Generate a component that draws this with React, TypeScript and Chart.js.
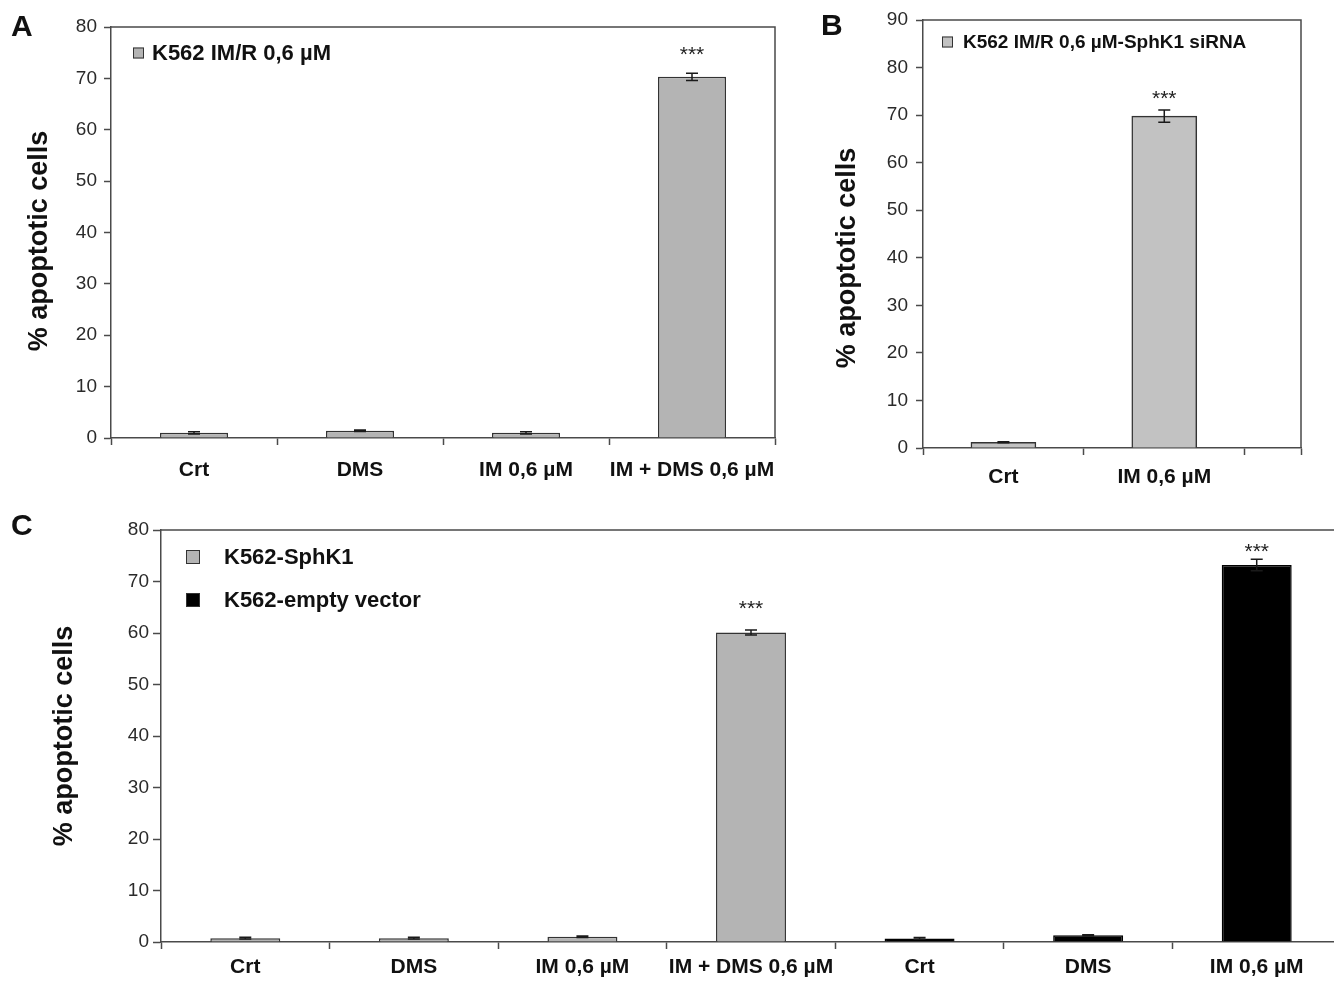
import React, { useEffect, useRef } from 'react';
import { Chart, registerables } from 'chart.js';

Chart.register(...registerables);

const FONT = '"Liberation Sans", Arial, Helvetica, sans-serif';
const Y_TITLE = '% apoptotic cells';

// ---------- Panel A ----------
const aCategories = ['Crt', 'DMS', 'IM 0,6 µM', 'IM + DMS 0,6 µM'];
const aSeriesLabel = 'K562 IM/R 0,6 µM';
const aValues = [1.0, 1.4, 1.0, 70.3];
const aErrors = [0.2, 0.15, 0.2, 0.7];
const aStars = ['', '', '', '***'];
const aYMax = 80;

// ---------- Panel B ----------
const bCategories = ['Crt', 'IM 0,6 µM'];
const bSeriesLabel = 'K562 IM/R 0,6 µM-SphK1 siRNA';
const bValues = [1.2, 69.8];
const bErrors = [0.12, 1.3];
const bStars = ['', '***'];
const bYMax = 90;

// ---------- Panel C ----------
const cCategories = ['Crt', 'DMS', 'IM 0,6 µM', 'IM + DMS 0,6 µM', 'Crt', 'DMS', 'IM 0,6 µM'];
const cSeries1Label = 'K562-SphK1';
const cSeries1Values = [0.75, 0.75, 1.0, 60.1, null, null, null];
const cSeries1Errors = [0.15, 0.15, 0.15, 0.5, null, null, null];
const cSeries1Stars = ['', '', '', '***', '', '', ''];
const cSeries2Label = 'K562-empty vector';
const cSeries2Values = [null, null, null, null, 0.7, 1.3, 73.2];
const cSeries2Errors = [null, null, null, null, 0.15, 0.1, 1.1];
const cSeries2Stars = ['', '', '', '', '', '', '***'];
const cYMax = 80;

const AXIS = '#4a4a4a';
const GRAY = '#b4b4b4';
const GRAY_B = '#c2c2c2';
const BLACK = '#000000';
const BAR_EDGE = '#333333';

const tickFont = { family: FONT, size: 19 };
const catFont = { family: FONT, size: 21, weight: 'bold' as const };

const decorPlugin = {
  id: 'decor',
  afterDatasetsDraw(chart: any, _args: any, opts: any) {
    const { ctx, chartArea: ca, scales } = chart;
    const y = scales.y;
    ctx.save();
    // frame (top + right)
    ctx.strokeStyle = AXIS;
    ctx.lineWidth = 1.5;
    ctx.beginPath();
    ctx.moveTo(ca.left, ca.top);
    ctx.lineTo(ca.right, ca.top);
    ctx.lineTo(ca.right, ca.bottom);
    ctx.stroke();

    // error bars + stars
    chart.data.datasets.forEach((ds: any, di: number) => {
      const meta = chart.getDatasetMeta(di);
      const errs = (opts.errors || [])[di] || [];
      const stars = (opts.stars || [])[di] || [];
      const gap = (opts.starGap || [])[di] || 20;
      ds.data.forEach((raw: any, i: number) => {
        const v = raw !== null && typeof raw === 'object' ? raw.y : raw;
        if (v == null) return;
        const el = meta.data[i];
        if (!el) return;
        const x = el.x;
        const e = errs[i];
        let topPx = y.getPixelForValue(v);
        if (e != null) {
          const yt = y.getPixelForValue(v + e);
          const yb = y.getPixelForValue(v - e);
          topPx = yt;
          ctx.strokeStyle = '#1a1a1a';
          ctx.lineWidth = 1.5;
          ctx.beginPath();
          ctx.moveTo(x, yt);
          ctx.lineTo(x, yb);
          ctx.moveTo(x - 6, yt);
          ctx.lineTo(x + 6, yt);
          ctx.moveTo(x - 6, yb);
          ctx.lineTo(x + 6, yb);
          ctx.stroke();
        }
        const s = stars[i];
        if (s) {
          ctx.fillStyle = '#222';
          ctx.font = `21px ${FONT}`;
          ctx.textAlign = 'center';
          ctx.textBaseline = 'alphabetic';
          ctx.fillText(s, x, topPx - gap + 12);
        }
      });
    });

    // legend
    const lg = opts.legend;
    if (lg) {
      chart.data.datasets.forEach((ds: any, di: number) => {
        const cy = lg.y + di * (lg.rowGap || 0);
        ctx.fillStyle = ds.backgroundColor;
        ctx.fillRect(lg.x, cy - lg.box / 2, lg.box, lg.box);
        ctx.strokeStyle = '#333';
        ctx.lineWidth = 1;
        ctx.strokeRect(lg.x + 0.5, cy - lg.box / 2 + 0.5, lg.box - 1, lg.box - 1);
        ctx.fillStyle = '#111';
        ctx.font = `bold ${lg.size}px ${FONT}`;
        ctx.textAlign = 'left';
        ctx.textBaseline = 'middle';
        ctx.fillText(ds.label, lg.textX, cy + 1);
      });
    }

    // y-axis title
    const t = opts.yTitle;
    if (t) {
      ctx.save();
      ctx.translate(t.x, t.y);
      ctx.rotate(-Math.PI / 2);
      ctx.fillStyle = '#111';
      ctx.font = `bold 27px ${FONT}`;
      ctx.textAlign = 'center';
      ctx.textBaseline = 'middle';
      ctx.fillText(t.text, 0, 0);
      ctx.restore();
    }
    ctx.restore();
  },
};

function yAxis(max: number, width: number, tickLen: number, pad: number) {
  return {
    min: 0,
    max,
    ticks: { stepSize: 10, font: tickFont, color: '#2a2a2a', padding: pad },
    grid: { drawOnChartArea: false, drawTicks: true, tickLength: tickLen, tickColor: AXIS, tickWidth: 1.5 },
    border: { display: true, color: AXIS, width: 1.5 },
    afterFit: (s: any) => {
      s.width = width;
    },
  };
}

function xCat(height: number, pad: number) {
  return {
    grid: { offset: true, drawOnChartArea: false, drawTicks: true, tickLength: 7, tickColor: AXIS, tickWidth: 1.5 },
    border: { display: true, color: AXIS, width: 1.5 },
    ticks: { font: catFont, color: '#111', padding: pad, maxRotation: 0, autoSkip: false },
    afterFit: (s: any) => {
      s.height = height;
    },
  };
}

function buildA(canvas: HTMLCanvasElement) {
  return new Chart(canvas, {
    type: 'bar',
    data: {
      labels: aCategories,
      datasets: [
        {
          label: aSeriesLabel,
          data: aValues,
          backgroundColor: GRAY,
          borderColor: BAR_EDGE,
          borderWidth: 1.5,
          barPercentage: 0.41,
          categoryPercentage: 1,
        },
      ],
    },
    options: {
      responsive: false,
      animation: false,
      layout: { padding: { top: 27, right: 25, left: 0, bottom: 0 } },
      plugins: {
        legend: { display: false },
        tooltip: { enabled: false },
        decor: {
          errors: [aErrors],
          stars: [aStars],
          starGap: [24],
          legend: { x: 133, y: 53, box: 11, textX: 152, size: 22, rowGap: 0 },
          yTitle: { text: Y_TITLE, x: 40, y: 241 },
        },
      } as any,
      scales: {
        x: xCat(62, 13) as any,
        y: yAxis(aYMax, 111, 7, 7) as any,
      },
    },
    plugins: [decorPlugin as any],
  });
}

function buildB(canvas: HTMLCanvasElement) {
  const xMax = 1.85;
  return new Chart(canvas, {
    type: 'bar',
    data: {
      datasets: [
        {
          label: bSeriesLabel,
          data: bValues.map((v, i) => ({ x: i, y: v })),
          backgroundColor: GRAY_B,
          borderColor: BAR_EDGE,
          borderWidth: 1.5,
          barThickness: 65,
        },
      ],
    },
    options: {
      responsive: false,
      animation: false,
      layout: { padding: { top: 20, right: 33, left: 0, bottom: 0 } },
      plugins: {
        legend: { display: false },
        tooltip: { enabled: false },
        decor: {
          errors: [bErrors],
          stars: [bStars],
          starGap: [17],
          legend: { x: 132, y: 42, box: 11, textX: 153, size: 19, rowGap: 0 },
          yTitle: { text: Y_TITLE, x: 38, y: 258 },
        },
      } as any,
      scales: {
        x: {
          type: 'linear',
          offset: false,
          min: -0.5,
          max: xMax,
          afterBuildTicks: (s: any) => {
            s.ticks = [-0.5, 0, 0.5, 1, 1.5, xMax].map((v) => ({ value: v }));
          },
          grid: {
            offset: false,
            drawOnChartArea: false,
            drawTicks: true,
            tickLength: 7,
            tickWidth: 1.5,
            tickColor: (c: any) => (c.tick && Number.isInteger(c.tick.value) ? 'rgba(0,0,0,0)' : AXIS),
          },
          border: { display: true, color: AXIS, width: 1.5 },
          ticks: {
            font: catFont,
            color: '#111',
            padding: 10,
            maxRotation: 0,
            autoSkip: false,
            callback: (v: any) => (Number.isInteger(v) ? bCategories[v] : ''),
          },
          afterFit: (s: any) => {
            s.height = 52;
          },
        } as any,
        y: yAxis(bYMax, 113, 7, 8) as any,
      },
    },
    plugins: [decorPlugin as any],
  });
}

function buildC(canvas: HTMLCanvasElement) {
  return new Chart(canvas, {
    type: 'bar',
    data: {
      labels: cCategories,
      datasets: [
        {
          label: cSeries1Label,
          data: cSeries1Values,
          backgroundColor: GRAY,
          borderColor: BAR_EDGE,
          borderWidth: 1.5,
          barPercentage: 0.415,
          categoryPercentage: 1,
          grouped: false,
        },
        {
          label: cSeries2Label,
          data: cSeries2Values,
          backgroundColor: BLACK,
          borderColor: BLACK,
          borderWidth: 1.5,
          barPercentage: 0.415,
          categoryPercentage: 1,
          grouped: false,
        },
      ],
    },
    options: {
      responsive: false,
      animation: false,
      layout: { padding: { top: 30, right: 9, left: 0, bottom: 0 } },
      plugins: {
        legend: { display: false },
        tooltip: { enabled: false },
        decor: {
          errors: [cSeries1Errors, cSeries2Errors],
          stars: [cSeries1Stars, cSeries2Stars],
          starGap: [27, 13],
          legend: { x: 186, y: 57, box: 14, textX: 224, size: 22, rowGap: 43 },
          yTitle: { text: Y_TITLE, x: 65, y: 236 },
        },
      } as any,
      scales: {
        x: xCat(40, 6) as any,
        y: yAxis(cYMax, 161, 8, 4) as any,
      },
    },
    plugins: [decorPlugin as any],
  });
}

function Panel(props: { build: (c: HTMLCanvasElement) => Chart; left: number; top: number; width: number; height: number }) {
  const { build, left, top, width, height } = props;
  const ref = useRef<HTMLCanvasElement>(null);
  useEffect(() => {
    const chart = build(ref.current as HTMLCanvasElement);
    return () => chart.destroy();
  }, []);
  return (
    <canvas
      ref={ref}
      width={width}
      height={height}
      style={{ position: 'absolute', left, top, width, height }}
    />
  );
}

const letterStyle = (left: number, top: number): React.CSSProperties => ({
  position: 'absolute',
  left,
  top,
  fontFamily: FONT,
  fontWeight: 'bold',
  fontSize: 30,
  lineHeight: 1,
  color: '#111',
});

export default function App() {
  return (
    <div
      style={{
        position: 'absolute',
        left: 0,
        top: 0,
        width: 1334,
        height: 982,
        overflow: 'hidden',
        background: '#fff',
      }}
    >
      <Panel build={buildA} left={0} top={0} width={800} height={500} />
      <Panel build={buildB} left={810} top={0} width={524} height={500} />
      <Panel build={buildC} left={0} top={500} width={1350} height={482} />
      <div style={letterStyle(11, 11)}>A</div>
      <div style={letterStyle(821, 10)}>B</div>
      <div style={letterStyle(11, 510)}>C</div>
    </div>
  );
}
